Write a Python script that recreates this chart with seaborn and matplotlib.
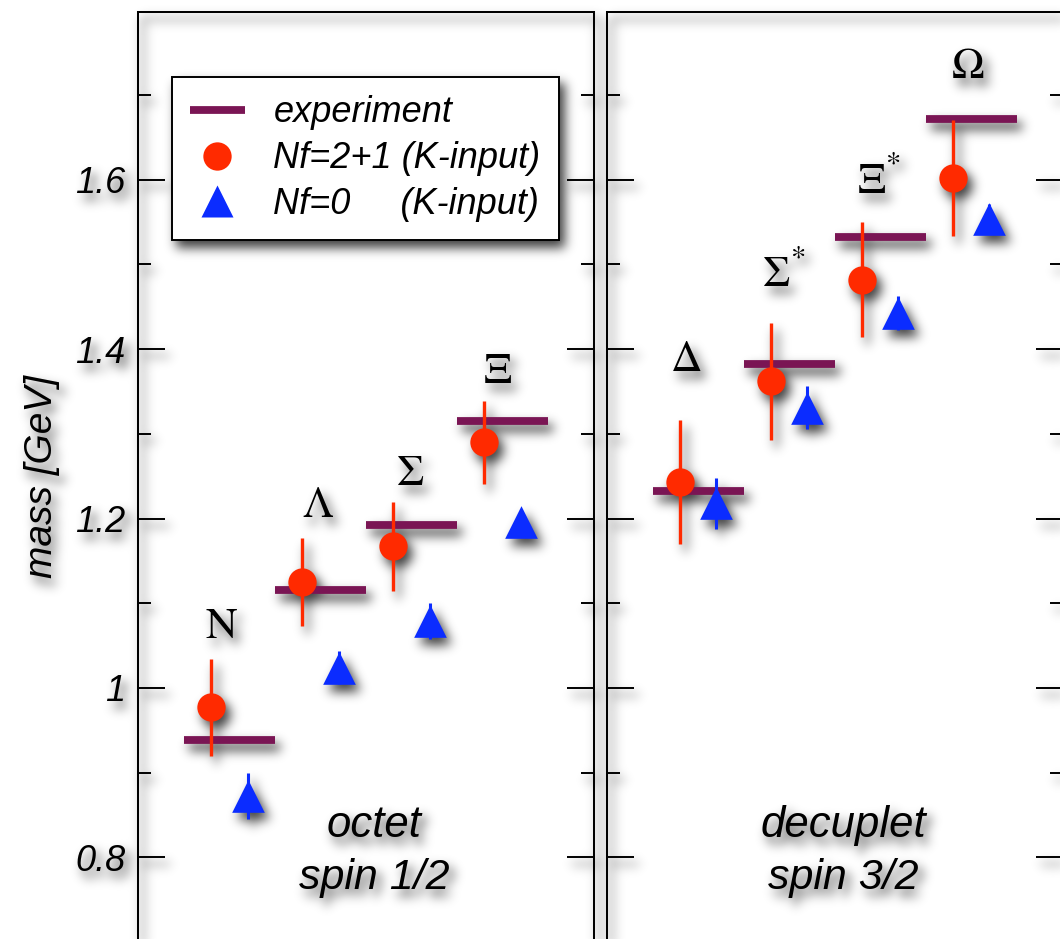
import numpy as np
import pandas as pd
import matplotlib
matplotlib.use("Agg")
import matplotlib.pyplot as plt
from matplotlib.lines import Line2D
from matplotlib.ticker import FixedLocator, MultipleLocator
import seaborn as sns

# ---- baryon masses [GeV] ----
octet_names = ["N", "Λ", "Σ", "Ξ"]
octet_stars = ["", "", "", ""]
octet_exp = [0.939, 1.116, 1.192, 1.315]
octet_nf21 = [0.977, 1.125, 1.167, 1.290]
octet_nf21_err = [0.057, 0.052, 0.052, 0.049]
octet_nf0 = [0.872, 1.024, 1.079, 1.196]
octet_nf0_err = [0.027, 0.019, 0.021, 0.015]

decuplet_names = ["Δ", "Σ", "Ξ", "Ω"]
decuplet_stars = ["", "*", "*", ""]
decuplet_exp = [1.232, 1.383, 1.532, 1.672]
decuplet_nf21 = [1.243, 1.362, 1.482, 1.602]
decuplet_nf21_err = [0.073, 0.069, 0.068, 0.068]
decuplet_nf0 = [1.218, 1.331, 1.443, 1.554]
decuplet_nf0_err = [0.030, 0.025, 0.020, 0.017]

panel_text = [("octet", "spin 1/2"), ("decuplet", "spin 3/2")]
legend_labels = ["experiment", "Nf=2+1 (K-input)", "Nf=0     (K-input)"]
y_ticks = [0.8, 1.0, 1.2, 1.4, 1.6]
y_tick_labels = ["0.8", "1", "1.2", "1.4", "1.6"]
y_label = "mass [GeV]"

# ---- layout: particle-name placement (x offset from group, baseline y) ----
octet_label_pos = [(0.107, 1.0586), (0.167, 1.2021), (0.192, 1.2395), (0.148, 1.3603)]
decuplet_label_pos = [(0.075, 1.3741), (0.055, 1.4745), (0.104, 1.5847), (0.164, 1.7197)]

EXP_C = "#7a1554"
RED_C = "#ff2a00"
BLUE_C = "#0b2cff"

sns.set_theme(style="white")
plt.rcParams["font.family"] = ["Liberation Sans", "DejaVu Sans"]

SANS = dict(family=["Liberation Sans", "DejaVu Sans"], style="italic")
SERIF = dict(family=["STIXGeneral", "Liberation Serif", "DejaVu Serif"])


def _blur(a, s):
    r = max(1, int(3 * s))
    k = np.exp(-0.5 * (np.arange(-r, r + 1) / s) ** 2)
    k /= k.sum()
    h, w = a.shape
    p = np.pad(a, ((0, 0), (r, r)))
    tmp = np.zeros_like(a)
    for i, kv in enumerate(k):
        tmp += kv * p[:, i:i + w]
    p = np.pad(tmp, ((r, r), (0, 0)))
    out = np.zeros_like(a)
    for i, kv in enumerate(k):
        out += kv * p[i:i + h, :]
    return out


def soft_shadow(img, dpi, sigma=5.5, dx=5, dy=7, strength=0.75):
    """Draw the rendered content over a blurred, offset dark copy of itself."""
    pad = int(3 * sigma) + max(dx, dy) + 2
    h, w, _ = img.shape
    src = np.zeros((h + 2 * pad, w + 2 * pad, 4))
    src[pad:pad + h, pad:pad + w] = img
    a = src[..., 3]
    sh = _blur(a, sigma)
    sh = np.roll(np.roll(sh, dy, axis=0), dx, axis=1) * strength
    out_a = a + sh * (1 - a)
    out = np.zeros_like(src)
    out[..., 3] = out_a
    nz = out_a > 1e-6
    prem = src[..., :3] * a[..., None]
    out[..., :3][nz] = prem[nz] / out_a[nz][:, None]
    return np.clip(out, 0, 1), -pad, -pad


W, H, DPI = 1060, 939, 100
fig = plt.figure(figsize=(W / DPI, H / DPI), dpi=DPI, facecolor="white")

# axes geometry in pixels
top_px, bottom_px = 11.5, 984.35
panel_w = 456.2
ax_left_px = [138.0, 606.7]
unit_px = 91.0
x0 = -0.805
ylim = (0.65, 1.7986)


def make_axes(left_px):
    return fig.add_axes([left_px / W, (H - bottom_px) / H,
                         panel_w / W, (bottom_px - top_px) / H])


def draw_panel(ax, names, stars, exp, nf21, nf21_err, nf0, nf0_err, label_pos, texts):
    pos = np.arange(len(names), dtype=float)
    df = pd.DataFrame({"pos": pos, "exp": exp, "nf21": nf21, "nf21_err": nf21_err,
                       "nf0": nf0, "nf0_err": nf0_err, "pos0": pos + 0.4})
    ax.hlines(df["exp"], df["pos"] - 0.3, df["pos"] + 0.7, color=EXP_C, lw=5.6,
              zorder=1, capstyle="butt")
    ax.errorbar(df["pos"], df["nf21"], yerr=df["nf21_err"], fmt="none", ecolor=RED_C,
                elinewidth=2.4, capsize=0, zorder=2)
    ax.errorbar(df["pos0"], df["nf0"], yerr=df["nf0_err"], fmt="none", ecolor=BLUE_C,
                elinewidth=2.2, capsize=0, zorder=2)
    sns.scatterplot(data=df, x="pos", y="nf21", marker="o", s=416, color=RED_C,
                    linewidth=0, ax=ax, zorder=3, legend=False)
    sns.scatterplot(data=df, x="pos0", y="nf0", marker="^", s=552, color=BLUE_C,
                    linewidth=0, ax=ax, zorder=3, legend=False)
    for i, (nm, st, (dxl, yl)) in enumerate(zip(names, stars, label_pos)):
        ax.text(i + dxl, yl, nm, ha="center", va="baseline", fontsize=31.5, color="black", **SERIF)
        if st:
            ax.annotate(st, xy=(i + dxl, yl), xytext=(16, 15), textcoords="offset points",
                        ha="center", va="baseline", fontsize=22, color="black", **SERIF)
    ax.text(1.79, 0.824, texts[0], ha="center", va="baseline", fontsize=31.5, color="black", **SANS)
    ax.text(1.79, 0.7627, texts[1], ha="center", va="baseline", fontsize=31, color="black", **SANS)

    ax.set_xlim(x0, x0 + panel_w / unit_px)
    ax.set_ylim(*ylim)
    ax.set_xlabel("")
    ax.set_ylabel("")
    ax.yaxis.set_major_locator(FixedLocator(y_ticks))
    ax.yaxis.set_minor_locator(MultipleLocator(0.1))
    ax.tick_params(axis="y", which="both", direction="in", left=True, right=True,
                   width=1.4, color="black", labelleft=False)
    ax.tick_params(axis="y", which="major", length=19.4, pad=9)
    ax.tick_params(axis="y", which="minor", length=9.4)
    ax.tick_params(axis="x", which="both", bottom=False, top=False, labelbottom=False)
    for sp in ax.spines.values():
        sp.set_visible(True)
        sp.set_color("black")
        sp.set_linewidth(1.45)
    ax.set_facecolor("none")
    ax.grid(False)


ax1 = make_axes(ax_left_px[0])
ax2 = make_axes(ax_left_px[1])

draw_panel(ax1, octet_names, octet_stars, octet_exp, octet_nf21, octet_nf21_err,
           octet_nf0, octet_nf0_err, octet_label_pos, panel_text[0])
draw_panel(ax2, decuplet_names, decuplet_stars, decuplet_exp, decuplet_nf21, decuplet_nf21_err,
           decuplet_nf0, decuplet_nf0_err, decuplet_label_pos, panel_text[1])

# y axis labelling on the left panel
ax1.tick_params(axis="y", which="major", labelleft=True, labelsize=26, labelcolor="black")
ax1.set_yticks(y_ticks)
ax1.set_yticklabels(y_tick_labels, **SANS)
ax1.set_ylabel(y_label, fontsize=28, color="black", **SANS)
ax1.yaxis.label.set_va("center")
ax1.yaxis.set_label_coords((42 - ax_left_px[0]) / panel_w, (bottom_px - 476) / (bottom_px - top_px))

handles = [
    Line2D([], [], color=EXP_C, lw=5.6, solid_capstyle="butt"),
    Line2D([], [], ls="none", marker="o", ms=20.4, mfc=RED_C, mec="none"),
    Line2D([], [], ls="none", marker="^", ms=23.5, mfc=BLUE_C, mec="none"),
]
leg = ax1.legend(handles, legend_labels, loc="upper left",
                 bbox_to_anchor=((172.3 - ax_left_px[0]) / panel_w,
                                 (bottom_px - 77.3) / (bottom_px - top_px)),
                 borderaxespad=0, prop=dict(family="Liberation Sans", style="italic", size=26),
                 handlelength=1.5, handletextpad=0.8, borderpad=0.5, labelspacing=0.3,
                 frameon=True, fancybox=False, edgecolor="black", framealpha=1,
                 facecolor="white")
leg.get_frame().set_linewidth(1.4)
for t in leg.get_texts():
    t.set_color("black")

for ax in (ax1, ax2):
    ax.set_agg_filter(soft_shadow)

fig.savefig("out.png", dpi=DPI, facecolor="white")
